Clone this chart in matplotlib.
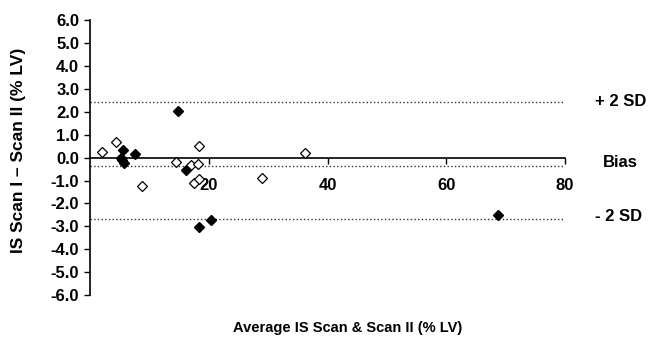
import matplotlib
matplotlib.use('Agg')
import matplotlib.pyplot as plt

plt.rcParams['font.family'] = ['Liberation Sans', 'DejaVu Sans']
plt.rcParams['font.weight'] = 'bold'

# open diamonds
open_x = [2.0, 4.4, 8.7, 14.4, 18.3, 16.9, 18.1, 17.4, 18.4, 29.0, 36.2]
open_y = [0.23, 0.69, -1.23, -0.18, 0.5, -0.33, -0.28, -1.1, -0.95, -0.87, 0.21]

# filled diamonds
filled_x = [5.5, 5.2, 5.3, 5.6, 7.6, 14.8, 16.1, 18.3, 20.3, 68.7]
filled_y = [0.33, 0.0, -0.12, -0.22, 0.18, 2.03, -0.55, -3.02, -2.73, -2.51]

# limits of agreement
upper_sd = 2.44
bias = -0.36
lower_sd = -2.67
ref_labels = ['+ 2 SD', 'Bias', '- 2 SD']

x_ticks = [20, 40, 60, 80]
y_ticks = [-6, -5, -4, -3, -2, -1, 0, 1, 2, 3, 4, 5, 6]

fig = plt.figure(figsize=(6.5, 3.42), dpi=100)
ax = fig.add_axes([0.139, 0.137, 0.730, 0.804])

for yv in (upper_sd, bias, lower_sd):
    ax.plot([0, 80], [yv, yv], color='#333333', linestyle=':', linewidth=1.0)

ax.plot(open_x, open_y, linestyle='none', marker='D', markersize=5.5,
        markerfacecolor='white', markeredgecolor='black', markeredgewidth=0.9, zorder=3)
ax.plot(filled_x, filled_y, linestyle='none', marker='D', markersize=5.5,
        markerfacecolor='black', markeredgecolor='black', zorder=3)

ax.set_xlim(0, 80)
ax.set_ylim(-6, 6)
ax.spines['top'].set_visible(False)
ax.spines['right'].set_visible(False)
ax.spines['bottom'].set_position(('data', 0))
ax.spines['left'].set_linewidth(1.2)
ax.spines['bottom'].set_linewidth(1.2)

ax.set_xticks(x_ticks)
ax.set_xticklabels([str(t) for t in x_ticks])
ax.set_yticks(y_ticks)
ax.set_yticklabels([f'{t:.1f}' for t in y_ticks])
ax.tick_params(axis='x', direction='out', length=4, width=1, pad=11, labelsize=12)
ax.tick_params(axis='y', direction='out', length=4, width=1, pad=4, labelsize=12)

# labels to the right of the reference lines
ax.text(85.0, upper_sd, ref_labels[0], fontsize=12, fontweight='bold', va='center', ha='left', clip_on=False)
ax.text(86.4, bias + 0.16, ref_labels[1], fontsize=12, fontweight='bold', va='center', ha='left', clip_on=False)
ax.text(85.0, lower_sd + 0.1, ref_labels[2], fontsize=12, fontweight='bold', va='center', ha='left', clip_on=False)

fig.text(0.029, 0.56, 'IS Scan I \u2013 Scan II (% LV)', rotation=90, fontsize=12.5,
         fontweight='bold', ha='center', va='center')
fig.text(0.535, 0.04, 'Average IS Scan & Scan II (% LV)', fontsize=10.5,
         fontweight='bold', ha='center', va='center')

fig.savefig('out.png', dpi=100)
